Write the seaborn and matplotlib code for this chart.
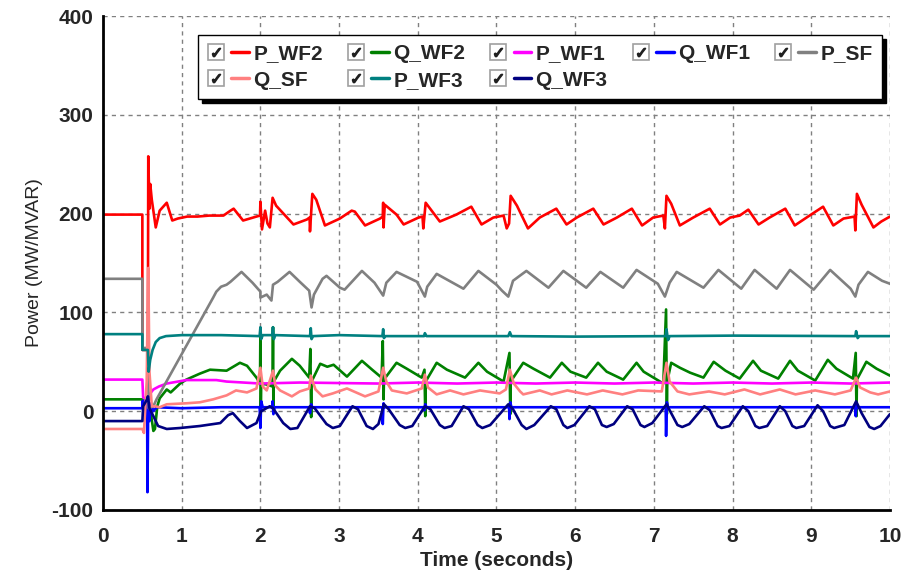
import pandas as pd
import seaborn as sns
import matplotlib.pyplot as plt
from matplotlib.lines import Line2D
from matplotlib.legend_handler import HandlerTuple
from matplotlib.ticker import MultipleLocator

# (time [s], value) pairs

P_WF2 = [(0, 199), (0.50, 199), (0.50, 62), (0.57, 62), (0.575, 258), (0.59, 205), (0.60, 230),
         (0.62, 214), (0.645, 200), (0.67, 186), (0.72, 203), (0.81, 211), (0.88, 193), (0.95, 195),
         (1.07, 197), (1.20, 197), (1.35, 198), (1.53, 198), (1.62, 203), (1.66, 205), (1.78, 193),
         (1.95, 197), (1.995, 198), (2.0, 212), (2.02, 184), (2.06, 203), (2.09, 190), (2.12, 186),
         (2.155, 216), (2.20, 208), (2.42, 189), (2.59, 194), (2.625, 196), (2.63, 182), (2.66, 220),
         (2.71, 214), (2.82, 188), (3.01, 195), (3.16, 203), (3.20, 202), (3.33, 188), (3.52, 195),
         (3.555, 197), (3.56, 211), (3.565, 186), (3.58, 209), (3.73, 199), (3.82, 189), (4.01, 196),
         (4.06, 197), (4.07, 185), (4.10, 211), (4.28, 192), (4.49, 199), (4.68, 207), (4.81, 189),
         (4.96, 196), (5.09, 198), (5.13, 185), (5.16, 190), (5.18, 218), (5.26, 208), (5.40, 185),
         (5.55, 196), (5.76, 205), (5.89, 189), (6.02, 196), (6.23, 205), (6.36, 189), (6.53, 196),
         (6.72, 205), (6.85, 188), (6.99, 196), (7.12, 198), (7.14, 185), (7.16, 218), (7.22, 210),
         (7.33, 188), (7.50, 196), (7.71, 205), (7.84, 189), (7.97, 196), (8.09, 198), (8.20, 204),
         (8.33, 189), (8.47, 196), (8.67, 205), (8.79, 188), (8.94, 196), (9.15, 207), (9.28, 188),
         (9.41, 195), (9.55, 197), (9.56, 183), (9.58, 220), (9.64, 209), (9.79, 186), (9.89, 192),
         (10.0, 197)]

Q_WF2 = [(0, 12), (0.50, 12), (0.52, 5), (0.57, 10), (0.60, 2), (0.64, -20), (0.66, -18), (0.69, 5),
         (0.72, 13), (0.81, 22), (0.86, 19), (0.98, 28), (1.06, 32), (1.23, 38), (1.36, 42),
         (1.57, 41), (1.74, 49), (1.83, 46), (1.95, 34), (1.995, 28), (2.0, 83), (2.005, 0),
         (2.01, 28), (2.08, 27), (2.155, 25), (2.16, 85), (2.165, 0), (2.17, 30), (2.25, 41),
         (2.40, 53), (2.50, 46), (2.62, 34), (2.635, 63), (2.645, -6), (2.65, 30), (2.76, 48),
         (2.85, 45), (2.93, 47), (3.10, 35), (3.29, 51), (3.42, 42), (3.54, 34), (3.555, 71),
         (3.565, 12), (3.57, 32), (3.73, 49), (3.86, 43), (4.05, 34), (4.085, 42), (4.095, -5),
         (4.10, 30), (4.24, 49), (4.37, 42), (4.60, 34), (4.77, 49), (4.88, 40), (5.09, 30),
         (5.165, 59), (5.175, -3), (5.18, 30), (5.34, 49), (5.47, 43), (5.68, 34), (5.83, 49),
         (5.94, 40), (6.14, 34), (6.29, 49), (6.40, 40), (6.61, 32), (6.78, 49), (6.87, 40),
         (7.12, 28), (7.155, 103), (7.165, -3), (7.17, 30), (7.22, 49), (7.33, 44), (7.46, 39),
         (7.63, 34), (7.76, 50), (7.91, 41), (8.09, 33), (8.26, 51), (8.36, 41), (8.58, 33),
         (8.73, 51), (8.83, 41), (9.05, 31), (9.21, 52), (9.32, 43), (9.53, 33), (9.565, 59),
         (9.575, -5), (9.58, 32), (9.70, 50), (9.83, 43), (10.0, 36)]

P_WF1 = [(0, 32), (0.50, 32), (0.51, 14), (0.57, 12), (0.60, 18), (0.64, 22), (0.71, 25),
         (0.81, 28), (1.06, 31.5), (1.44, 31.5), (1.57, 30), (2.0, 28), (2.5, 29), (3.0, 28.5),
         (3.5, 28), (4.0, 29), (4.5, 28), (5.0, 29), (5.5, 28), (6.0, 29), (6.5, 28), (7.0, 29),
         (7.5, 28), (8.0, 29), (8.5, 28), (9.0, 29), (9.5, 28), (10.0, 29)]

Q_WF1 = [(0, 3), (0.50, 3), (0.50, 10), (0.56, 12), (0.565, -82), (0.575, 15), (0.59, -10),
         (0.61, 8), (0.64, 0), (0.68, 4), (1.0, 3), (1.5, 4), (1.99, 4), (2.0, -17), (2.01, 10),
         (2.03, 4), (2.15, 4), (2.155, 10), (2.165, -3), (2.18, 4), (2.62, 4), (2.63, -2),
         (2.645, 7), (2.66, 4), (3.55, 4), (3.555, -13), (3.565, 8), (3.58, 4), (4.08, 4),
         (4.085, 1), (4.095, 7), (4.11, 4), (5.16, 4), (5.165, -8), (5.175, 9), (5.19, 4),
         (7.15, 4), (7.155, -25), (7.165, 9), (7.18, 4), (9.56, 4), (9.565, -5), (9.575, 8),
         (9.59, 4), (10.0, 4)]

P_SF = [(0, 134), (0.50, 134), (0.50, 64), (0.57, 64), (0.58, 3), (0.64, 5), (0.68, 12),
        (1.40, 115), (1.44, 121), (1.50, 126), (1.57, 128), (1.62, 131), (1.76, 141), (1.90, 130),
        (2.0, 121), (2.0, 115), (2.08, 118), (2.14, 112), (2.16, 128), (2.22, 131), (2.37, 141),
        (2.50, 131), (2.62, 122), (2.65, 105), (2.68, 118), (2.79, 134), (2.84, 137), (3.01, 125),
        (3.07, 123), (3.29, 142), (3.45, 130), (3.56, 117), (3.60, 130), (3.73, 141), (3.99, 131),
        (4.09, 116), (4.12, 126), (4.24, 139), (4.58, 124), (4.77, 142), (5.0, 128), (5.07, 122),
        (5.15, 116), (5.21, 132), (5.38, 142), (5.66, 125), (5.85, 142), (6.14, 125), (6.32, 141),
        (6.61, 125), (6.78, 143), (7.05, 129), (7.14, 116), (7.20, 130), (7.29, 141), (7.63, 125),
        (7.82, 143), (8.11, 124), (8.28, 143), (8.56, 124), (8.73, 143), (9.03, 123), (9.24, 143),
        (9.50, 124), (9.56, 116), (9.60, 128), (9.72, 141), (9.90, 132), (10.0, 129)]

Q_SF = [(0, -18), (0.50, -18), (0.52, -22), (0.555, 30), (0.575, 145), (0.59, 40), (0.62, 5),
        (0.66, 5), (0.72, 4), (0.81, 7), (1.06, 8), (1.23, 9), (1.40, 12), (1.57, 16), (1.69, 21),
        (1.83, 19), (1.95, 23), (2.0, 44), (2.03, 25), (2.08, 21), (2.16, 41), (2.19, 26),
        (2.25, 21), (2.40, 15), (2.50, 20), (2.62, 23), (2.64, 36), (2.70, 22), (2.79, 15),
        (2.92, 18), (3.10, 23), (3.33, 15), (3.50, 20), (3.56, 44), (3.60, 30), (3.67, 21),
        (3.86, 18), (4.05, 23), (4.09, 37), (4.13, 24), (4.24, 17), (4.41, 21), (4.58, 17),
        (4.79, 21), (5.04, 18), (5.12, 22), (5.17, 42), (5.22, 28), (5.30, 20), (5.34, 17),
        (5.55, 21), (5.70, 17), (5.90, 21), (6.15, 17), (6.35, 21), (6.60, 17), (6.80, 21),
        (7.10, 20), (7.16, 49), (7.20, 30), (7.30, 20), (7.45, 17), (7.70, 20), (7.90, 17),
        (8.15, 22), (8.35, 17), (8.60, 22), (8.80, 17), (9.05, 21), (9.30, 17), (9.50, 21),
        (9.57, 34), (9.62, 24), (9.75, 19), (9.85, 17), (10.0, 20)]

P_WF3 = [(0, 78), (0.50, 78), (0.50, 62), (0.57, 62), (0.58, 40), (0.60, 52), (0.63, 62),
         (0.67, 70), (0.72, 74), (0.80, 76), (1.0, 77), (1.5, 77), (1.99, 76), (2.0, 85),
         (2.01, 73), (2.03, 77), (2.15, 77), (2.16, 85), (2.17, 73), (2.19, 77), (2.63, 76),
         (2.64, 84), (2.65, 73), (2.67, 76), (3.0, 77), (3.55, 76), (3.56, 83), (3.57, 74),
         (3.59, 76), (4.08, 76), (4.09, 79), (4.11, 76), (5.15, 76), (5.17, 80), (5.19, 76),
         (6.0, 75.5), (7.15, 76), (7.16, 83), (7.18, 72), (7.20, 76), (8.0, 76.5), (9.56, 76),
         (9.57, 81), (9.59, 74), (9.61, 76), (10.0, 76)]

Q_WF3 = [(0, -10), (0.50, -10), (0.51, 5), (0.56, 12), (0.57, 15), (0.59, 3), (0.64, -5),
         (0.70, -15), (0.81, -18), (0.98, -17), (1.23, -15), (1.49, -12), (1.59, -4), (1.65, -2),
         (1.74, -10), (1.83, -17), (1.95, -12), (2.01, 0), (2.12, 5), (2.16, 3), (2.29, -12),
         (2.38, -18), (2.47, -17), (2.63, 5), (2.69, 3), (2.84, -13), (2.92, -17), (3.01, -15),
         (3.17, 5), (3.24, 2), (3.35, -15), (3.43, -18), (3.50, -13), (3.57, 7), (3.63, 2),
         (3.77, -14), (3.84, -17), (3.93, -15), (4.09, 5), (4.16, 2), (4.28, -14), (4.34, -17),
         (4.43, -15), (4.58, 5), (4.65, 2), (4.76, -14), (4.82, -17), (4.92, -14), (5.15, 7),
         (5.21, 2), (5.32, -14), (5.38, -18), (5.48, -14), (5.69, 5), (5.76, 2), (5.85, -14),
         (5.90, -17), (5.99, -14), (6.18, 5), (6.25, 2), (6.34, -14), (6.40, -16), (6.49, -13),
         (6.66, 5), (6.73, 2), (6.83, -14), (6.88, -16), (6.98, -12), (7.16, 7), (7.22, -2),
         (7.30, -14), (7.36, -16), (7.45, -13), (7.64, 5), (7.71, 1), (7.81, -15), (7.86, -17),
         (7.96, -15), (8.13, 5), (8.20, 0), (8.29, -15), (8.34, -17), (8.44, -15), (8.60, 5),
         (8.67, 0), (8.76, -15), (8.81, -17), (8.91, -15), (9.08, 6), (9.15, 0), (9.24, -15),
         (9.29, -17), (9.42, -14), (9.57, 10), (9.64, -2), (9.74, -16), (9.80, -18), (9.88, -15),
         (10.0, -3)]

names = ['P_WF2', 'Q_WF2', 'P_WF1', 'Q_WF1', 'P_SF', 'Q_SF', 'P_WF3', 'Q_WF3']
colors = ['#ff0000', '#008000', '#ff00ff', '#0000ff', '#808080', '#ff8080', '#008080', '#000080']
series = [P_WF2, Q_WF2, P_WF1, Q_WF1, P_SF, Q_SF, P_WF3, Q_WF3]

sns.set_style('white')
plt.rcParams['font.family'] = ['Liberation Sans', 'DejaVu Sans']
plt.rcParams['axes.unicode_minus'] = False

fig = plt.figure(figsize=(9.06, 5.76), dpi=100)
ax = fig.add_axes([0.1137, 0.1146, 0.8686, 0.8576])

for name, col, pts in zip(names, colors, series):
    df = pd.DataFrame(pts, columns=['t', 'v'])
    sns.lineplot(data=df, x='t', y='v', sort=False, estimator=None,
                 color=col, lw=1.9, ax=ax)

ax.set_xlim(0, 10)
ax.set_ylim(-100, 400)
ax.xaxis.set_major_locator(MultipleLocator(1))
ax.xaxis.set_minor_locator(MultipleLocator(0.2))
ax.yaxis.set_major_locator(MultipleLocator(100))
ax.yaxis.set_minor_locator(MultipleLocator(25))
ax.grid(True, which='major', ls=(0, (3, 3)), color='#808080', lw=1)

for s in ['top', 'right']:
    ax.spines[s].set_visible(False)
for s in ['left', 'bottom']:
    ax.spines[s].set_color('black')
    ax.spines[s].set_linewidth(2)

ax.tick_params(axis='x', which='both', direction='in', length=4, color='black', pad=12)
ax.tick_params(axis='y', which='major', direction='out', length=5, color='black', pad=2)
ax.tick_params(axis='y', which='minor', direction='out', length=3, color='black')
ax.tick_params(axis='both', labelsize=15)
for lab in ax.get_xticklabels() + ax.get_yticklabels():
    lab.set_fontweight('bold')

ax.set_xlabel('Time (seconds)', fontsize=15, fontweight='bold', labelpad=4)
ax.set_ylabel('Power (MW/MVAR)', fontsize=14, labelpad=6)


# legend entries: checkbox + coloured line
class Entry(tuple):
    pass


handles = []
for col in colors:
    box = Line2D([], [], ls='none', marker='s', ms=11, mfc='white', mec='#a0a0a0', mew=1.2)
    tick = Line2D([], [], ls='none', marker=r'$\checkmark$', ms=6, color='#202020')
    line = Line2D([], [], color=col, lw=2.5)
    handles.append(Entry([(box, tick), line]))

order = [0, 5, 1, 6, 2, 7, 3, 4]
leg = ax.legend([handles[i] for i in order], [names[i] for i in order],
                handler_map={Entry: HandlerTuple(ndivide=None, pad=0.3)},
                ncol=5, loc='upper left', bbox_to_anchor=(0.1207, 0.83, 0.869, 0.1315),
                mode='expand', borderaxespad=0, prop={'weight': 'bold', 'size': 15},
                handlelength=2.0, handletextpad=0.2,
                labelspacing=0.35, borderpad=0.45, fancybox=False, framealpha=1,
                edgecolor='black',
                shadow={'ox': 3, 'oy': -3, 'facecolor': 'black', 'edgecolor': 'black', 'alpha': 1})
leg.get_frame().set_linewidth(1)

fig.savefig('out.png', dpi=100)
